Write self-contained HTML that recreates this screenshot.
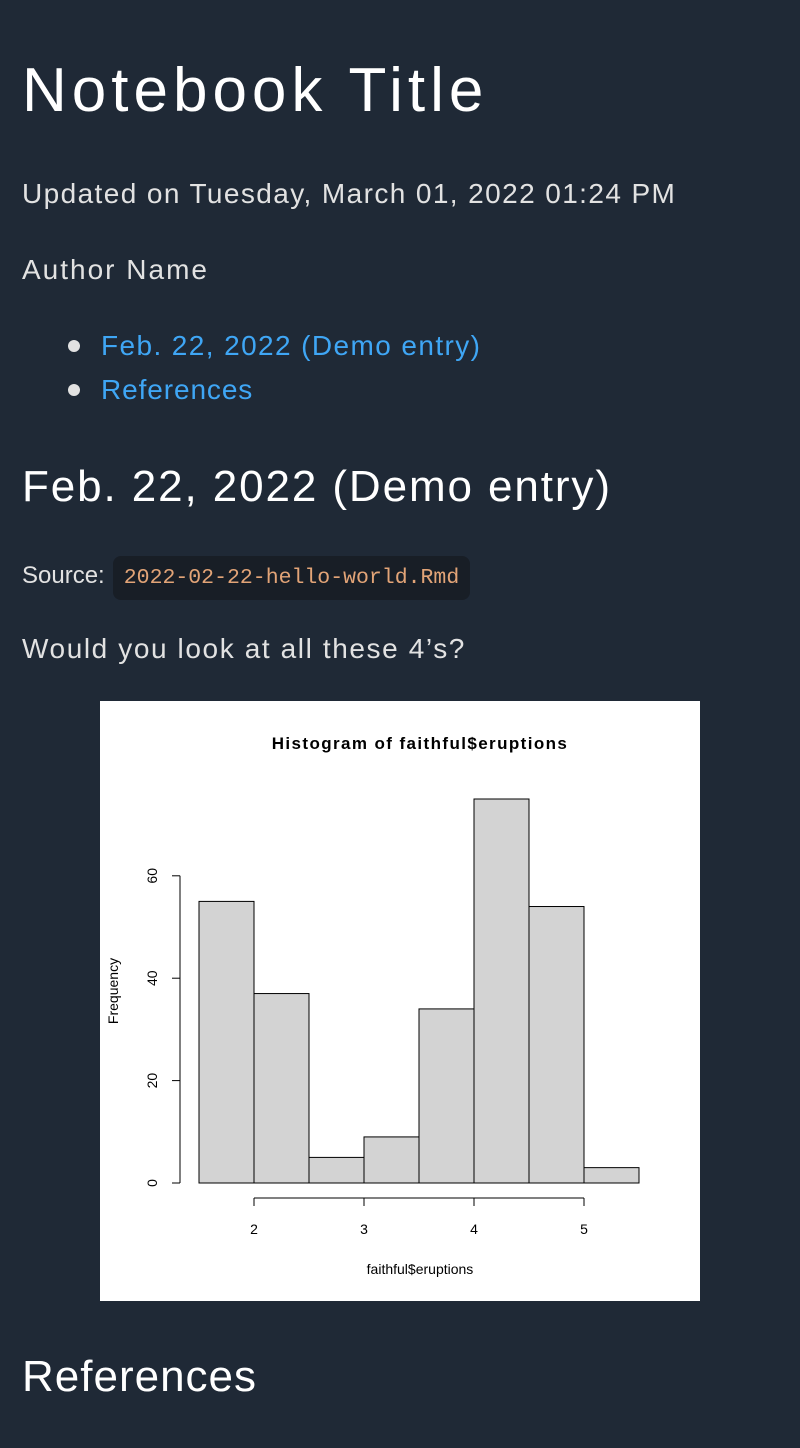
<!DOCTYPE html>
<html><head><meta charset="utf-8"><style>
html,body{margin:0;padding:0;width:800px;height:1448px;background:#1f2936;overflow:hidden}
body{position:relative;font-family:"Liberation Sans",sans-serif;color:#e2e2e2}
.t{position:absolute;left:22px;white-space:nowrap}
a{color:#3fa6f5;text-decoration:none}
</style></head><body>
<div class="t" style="top:56px;font-size:62px;line-height:70px;color:#fff;letter-spacing:5px">Notebook Title</div>
<div class="t" style="top:176px;font-size:28px;line-height:36px;letter-spacing:1.4px">Updated on Tuesday, March 01, 2022 01:24 PM</div>
<div class="t" style="top:252px;font-size:28px;line-height:36px;letter-spacing:2px">Author Name</div>
<div class="t" style="left:68px;top:340px;width:12px;height:12px;border-radius:6px;background:#e2e2e2"></div>
<div class="t" style="left:68px;top:384px;width:12px;height:12px;border-radius:6px;background:#e2e2e2"></div>
<a class="t" href="#entry" style="left:101px;top:328px;font-size:28px;line-height:36px;color:#3fa6f5;letter-spacing:1.4px">Feb. 22, 2022 (Demo entry)</a>
<a class="t" href="#refs" style="left:101px;top:372px;font-size:28px;line-height:36px;color:#3fa6f5;letter-spacing:0.9px">References</a>
<div class="t" id="entry" style="top:461px;font-size:44px;line-height:52px;color:#fff;letter-spacing:1.9px">Feb. 22, 2022 (Demo entry)</div>
<div class="t" style="top:561px;font-size:24px;line-height:30px">Source:</div>
<div class="t" style="left:113px;top:556px;width:357px;height:44px;border-radius:8px;background:#181e26;color:#e2a477;font-family:'Liberation Mono',monospace;font-size:21.5px;line-height:44px;text-align:center">2022-02-22-hello-world.Rmd</div>
<div class="t" style="top:631px;font-size:28px;line-height:36px;letter-spacing:1.6px">Would you look at all these 4’s?</div>
<svg style="position:absolute;left:100px;top:701px" width="600" height="600" font-family="Liberation Sans, sans-serif">
<rect width="600" height="600" fill="#fff"/>
<text x="320" y="48" text-anchor="middle" font-size="17" font-weight="bold" letter-spacing="1.4">Histogram of faithful$eruptions</text>
<g id="bars"></g><g id="axes"></g>
<text x="320" y="573" text-anchor="middle" font-size="14">faithful$eruptions</text>
<text transform="translate(18,290) rotate(-90)" text-anchor="middle" font-size="14">Frequency</text>
</svg>
<div class="t" id="refs" style="top:1351px;font-size:44px;line-height:52px;color:#fff;letter-spacing:1px">References</div>
<script>
const breaks=[1.5,2,2.5,3,3.5,4,4.5,5,5.5];
const counts=[55,37,5,9,34,75,54,3];
const xTicks=[2,3,4,5];
const yTicks=[0,20,40,60];
const ns="http://www.w3.org/2000/svg";
const X=v=>154+(v-2)*110, Y=v=>482-v*5.12;
function mk(t,a,p){const e=document.createElementNS(ns,t);for(const k in a)e.setAttribute(k,a[k]);p.appendChild(e);return e;}
const bars=document.getElementById('bars'),axes=document.getElementById('axes');
counts.forEach((c,i)=>{const r=mk('rect',{x:X(breaks[i]),y:Y(c),width:X(breaks[i+1])-X(breaks[i]),height:Y(0)-Y(c),fill:'#d3d3d3',stroke:'#000','stroke-width':1},bars);

});
mk('line',{x1:X(xTicks[0]),x2:X(xTicks[xTicks.length-1]),y1:497,y2:497,stroke:'#000'},axes);
xTicks.forEach(t=>{mk('line',{x1:X(t),x2:X(t),y1:497,y2:505,stroke:'#000'},axes);
const tx=mk('text',{x:X(t),y:533,'text-anchor':'middle','font-size':14},axes);tx.textContent=t;

});
mk('line',{x1:80,x2:80,y1:Y(yTicks[0]),y2:Y(yTicks[yTicks.length-1]),stroke:'#000'},axes);
yTicks.forEach(t=>{mk('line',{x1:72,x2:80,y1:Y(t),y2:Y(t),stroke:'#000'},axes);
const tx=mk('text',{x:0,y:0,'text-anchor':'middle','font-size':14,transform:`translate(57,${Y(t)}) rotate(-90)`},axes);tx.textContent=t;

});
</script>
</body></html>
